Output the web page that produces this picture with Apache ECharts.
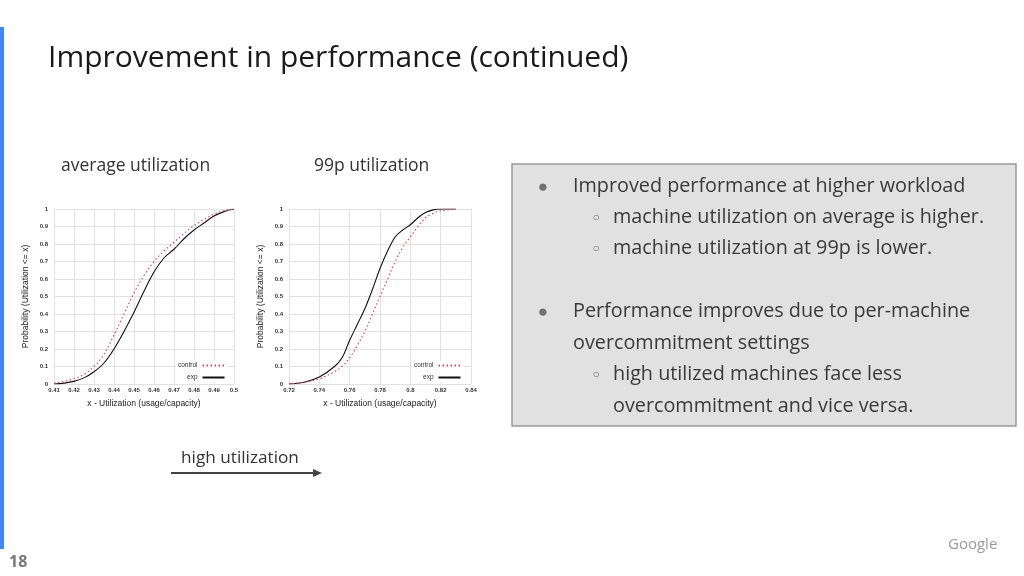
<!DOCTYPE html>
<html>
<head>
<meta charset="utf-8">
<script src="https://cdn.jsdelivr.net/npm/echarts@6/dist/echarts.min.js"></script>
<style>
html,body{margin:0;padding:0;background:#fff;}
#c{width:1024px;height:576px;}
</style>
</head>
<body>
<div id="c"></div>
<script>
// ---- data ----
const avgX = [0.41,0.415,0.42,0.425,0.43,0.435,0.44,0.445,0.45,0.455,0.46,0.465,0.47,0.475,0.48,0.485,0.49,0.495,0.5];
const avgControl = [0.005,0.015,0.03,0.055,0.10,0.17,0.28,0.40,0.52,0.62,0.70,0.76,0.81,0.86,0.905,0.94,0.97,0.99,1.0];
const avgExp = [0,0.005,0.015,0.035,0.07,0.12,0.20,0.30,0.41,0.53,0.64,0.72,0.77,0.83,0.88,0.92,0.96,0.985,1.0];

const p99X = [0.72,0.73,0.74,0.75,0.755,0.76,0.765,0.77,0.775,0.78,0.785,0.79,0.795,0.80,0.805,0.81,0.815,0.82,0.83];
const p99Control = [0,0.01,0.03,0.07,0.10,0.15,0.22,0.30,0.40,0.50,0.60,0.70,0.78,0.84,0.90,0.95,0.975,0.99,1.0];
const p99Exp = [0,0.01,0.04,0.10,0.15,0.25,0.34,0.43,0.54,0.66,0.76,0.84,0.88,0.91,0.95,0.98,0.995,1.0,1.0];

const seriesNames = ['control','exp'];
const chartTitles = ['average utilization','99p utilization'];
const xAxisName = 'x - Utilization (usage/capacity)';
const yAxisName = 'Probability (Utilization <= x)';
const slideTitle = 'Improvement in performance (continued)';
const bulletLines = [
  {lvl:1, bullet:'●', text:'Improved performance at higher workload'},
  {lvl:2, bullet:'○', text:'machine utilization on average is higher.'},
  {lvl:2, bullet:'○', text:'machine utilization at 99p is lower.'},
  {lvl:0, bullet:'', text:''},
  {lvl:1, bullet:'●', text:'Performance improves due to per-machine'},
  {lvl:1, bullet:'', text:'overcommitment settings'},
  {lvl:2, bullet:'○', text:'high utilized machines face less'},
  {lvl:2, bullet:'', text:'overcommitment and vice versa.'}
];
const arrowLabel = 'high utilization';
const pageNum = '18';
const brand = 'Google';

// ---- build ----
const zip = (xs, ys) => xs.map((x,i)=>[x, ys[i]]);
const FONT = '"Open Sans", "Noto Sans", sans-serif';
const AXF = 'Liberation Sans, Arial, sans-serif';
const RED = '#e2475c';

function xAxis(gi, min, max, interval){
  return {
    type:'value', gridIndex:gi, min:min, max:max, interval:interval,
    name:xAxisName, nameLocation:'middle', nameGap:15,
    nameTextStyle:{fontFamily:AXF, fontSize:8.5, color:'#222'},
    axisLine:{show:false}, axisTick:{show:false},
    axisLabel:{fontFamily:AXF, fontSize:6, fontWeight:'bold', color:'#333', margin:3,
      formatter: v => String(parseFloat(v.toFixed(2)))},
    splitLine:{show:true, lineStyle:{color:'#e2e2e2', width:1}}
  };
}
function yAxis(gi){
  return {
    type:'value', gridIndex:gi, min:0, max:1, interval:0.1,
    name:yAxisName, nameLocation:'middle', nameGap:24,
    nameTextStyle:{fontFamily:AXF, fontSize:8.5, color:'#222'},
    axisLine:{show:false}, axisTick:{show:false},
    axisLabel:{fontFamily:AXF, fontSize:6, fontWeight:'bold', color:'#333', margin:6,
      formatter: v => String(parseFloat(v.toFixed(1)))},
    splitLine:{show:true, lineStyle:{color:'#e2e2e2', width:1}}
  };
}
function lineSeries(name, data, gi, isControl){
  return {
    name:name, type:'line', xAxisIndex:gi, yAxisIndex:gi, data:data,
    smooth:0.35, showSymbol:false, symbol:'none', animation:false,
    lineStyle: isControl ? {color:RED, width:1.2, type:[1.5,2.5]} : {color:'#111', width:1.1},
    itemStyle:{color: isControl ? RED : '#111'},
    z: isControl ? 3 : 2
  };
}
function legend(left){
  return {
    data:seriesNames, orient:'vertical', left:left, top:361, align:'right',
    itemWidth:22, itemHeight:6, itemGap:5, padding:[1,2], backgroundColor:'#fff',
    itemStyle:{opacity:0},
    textStyle:{fontFamily:AXF, fontSize:6.5, color:'#333', padding:[0,0,0,0]},
    selectedMode:false
  };
}

const graphics = [];
// left accent bar
graphics.push({type:'rect', shape:{x:0,y:27,width:4,height:522}, style:{fill:'#4285f4'}});
// title
graphics.push({type:'text', x:48, y:58, style:{text:slideTitle, font:'30px '+FONT, fill:'#1a1a1a', textVerticalAlign:'middle'}});
// chart titles
graphics.push({type:'text', x:61, y:166, style:{text:chartTitles[0], font:'17.5px '+FONT, fill:'#333', textVerticalAlign:'middle'}});
graphics.push({type:'text', x:314, y:166, style:{text:chartTitles[1], font:'17.5px '+FONT, fill:'#333', textVerticalAlign:'middle'}});
// box
graphics.push({type:'rect', shape:{x:512,y:164,width:504,height:262}, style:{fill:'#e1e1e1', stroke:'#9a9a9a', lineWidth:1.5}});
const lineYs = [186,217,248,280,311,343,374,406];
bulletLines.forEach((b,i)=>{
  const y = lineYs[i];
  const tx = b.lvl===2 ? 613 : 573;
  const bx = b.lvl===2 ? 596 : 543;
  if (b.bullet) graphics.push({type:'text', x:bx, y:y+1, style:{text:b.bullet, font:(b.lvl===2?'12px ':'17px ')+FONT, fill:'#707070', textAlign:'center', textVerticalAlign:'middle'}});
  if (b.text) graphics.push({type:'text', x:tx, y:y, style:{text:b.text, font:'19.8px '+FONT, fill:'#3a3a3a', textVerticalAlign:'middle'}});
});
// arrow
graphics.push({type:'text', x:181, y:458, style:{text:arrowLabel, font:'17.2px '+FONT, fill:'#333', textVerticalAlign:'middle'}});
graphics.push({type:'line', shape:{x1:171,y1:473,x2:314,y2:473}, style:{stroke:'#444', lineWidth:2}});
graphics.push({type:'polygon', shape:{points:[[313,469],[322,473],[313,477]]}, style:{fill:'#444'}});
// page number, brand
graphics.push({type:'text', x:9, y:562, style:{text:pageNum, font:'bold 16px '+FONT, fill:'#777', textVerticalAlign:'middle'}});
graphics.push({type:'text', x:948, y:545, style:{text:brand, font:'15px '+FONT, fill:'#9a9a9a', textVerticalAlign:'middle'}});

const option = {
  animation:false,
  backgroundColor:'#fff',
  grid:[
    {left:54, top:209, width:180, height:175, containLabel:false},
    {left:289, top:209, width:182, height:175, containLabel:false}
  ],
  xAxis:[xAxis(0,0.41,0.5,0.01), xAxis(1,0.72,0.84,0.02)],
  yAxis:[yAxis(0), yAxis(1)],
  legend:[legend(176), legend(412)],
  series:[
    lineSeries(seriesNames[0], zip(avgX, avgControl), 0, true),
    lineSeries(seriesNames[1], zip(avgX, avgExp), 0, false),
    lineSeries(seriesNames[0], zip(p99X, p99Control), 1, true),
    lineSeries(seriesNames[1], zip(p99X, p99Exp), 1, false)
  ],
  graphic: graphics
};
const chart = echarts.init(document.getElementById('c'), null, {renderer:'canvas'});
chart.setOption(option);
</script>
</body>
</html>
